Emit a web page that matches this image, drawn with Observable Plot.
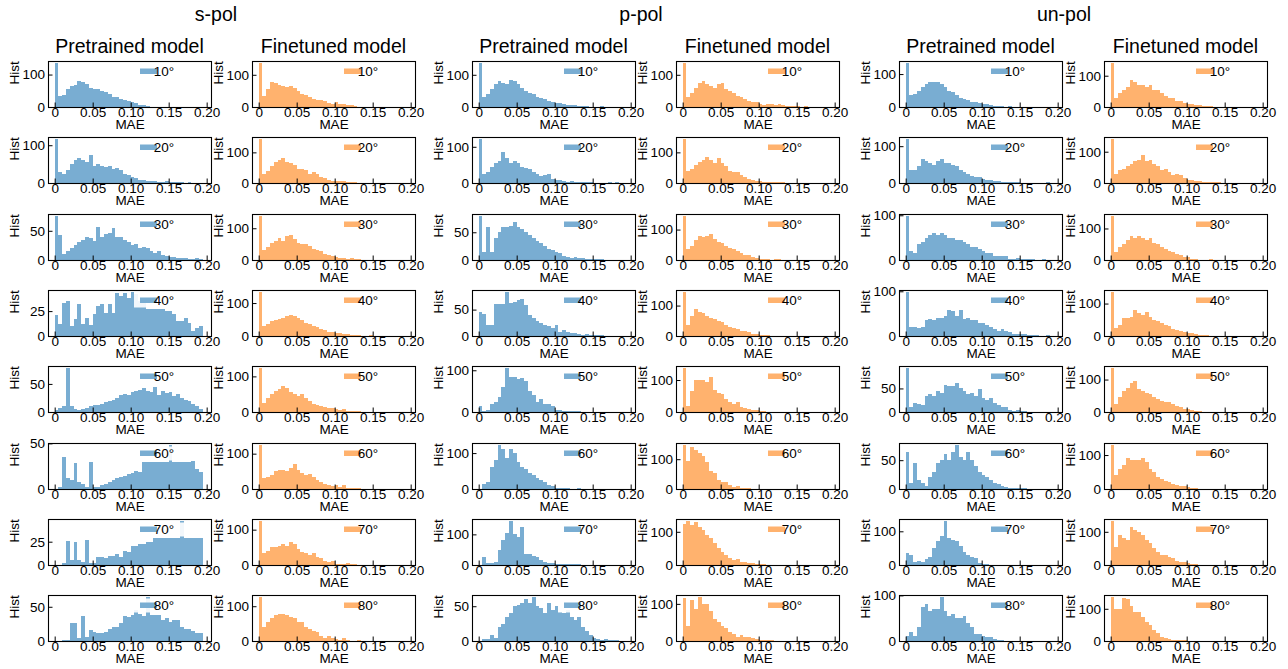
<!DOCTYPE html>
<html><head><meta charset="utf-8">
<script src="https://cdn.jsdelivr.net/npm/d3@7"></script>
<script src="https://cdn.jsdelivr.net/npm/@observablehq/plot@0.6"></script>
<style>
body{margin:0;background:#fff;}
#wrap{position:relative;width:1288px;height:669px;font-family:"Liberation Sans",Arial,sans-serif;color:#000;overflow:hidden;}
.t{position:absolute;transform:translateX(-50%);white-space:nowrap;font-size:19.5px;line-height:1;}
.p{position:absolute;}
.p svg{max-width:none !important;}
</style></head><body><div id="wrap"></div>
<script>
// ---------- data ----------
const groupTitles = ["s-pol", "p-pol", "un-pol"];
const modelTitles = ["Pretrained model", "Finetuned model"];
const angleLabels = ["10°", "20°", "30°", "40°", "50°", "60°", "70°", "80°"];
const xTickValues = [0, 0.05, 0.1, 0.15, 0.2];
const xTickLabels = ["0", "0.05", "0.10", "0.15", "0.20"];
const binWidth = 0.005; // histogram bins start at 0

// counts per bin (bin k covers [k*0.005, (k+1)*0.005]), one row per angle
const sPolPretrained = [
  [135,35,38,55,65,68,80,76,70,60,57,55,50,45,40,32,30,25,22,20,15,12,7,5,2],
  [116,28,25,35,50,60,65,62,55,75,45,50,45,42,45,38,40,35,25,20,15,12,8,8,6,5,4,3,3,5,3,2,3,2,0,2,1],
  [75,42,10,15,20,25,30,35,40,38,32,57,40,45,47,55,40,40,35,30,25,28,20,22,20,15,12,15,8,7,5,5,3,4,4,2,1,3,1],
  [21,12,33,35,10,17,32,12,18,11,22,30,32,23,32,23,43,40,43,38,44,42,35,35,27,27,27,27,27,25,25,22,15,15,18,13,5,8,10],
  [3,8,10,78,10,5,3,5,8,10,12,12,15,18,20,22,25,30,32,30,35,38,40,42,38,35,45,30,38,33,35,28,32,25,22,20,15,10,6],
  [0,2,35,12,10,28,8,5,2,30,2,2,4,5,8,10,12,13,14,16,18,20,19,30,30,30,30,30,30,30,48,30,30,30,30,30,31,22,19],
  [0,0,2,26,5,25,5,3,27,2,2,9,9,8,10,10,12,9,15,14,20,20,22,23,25,25,29,29,29,29,29,29,29,47,29,29,29,29,29],
  [0,0,2,2,27,27,5,36,6,16,13,12,11,13,17,20,20,27,36,35,38,45,40,36,64,38,38,38,31,33,28,31,31,21,17,17,15,12,12]
];
const sPolFinetuned = [
  [136,34,57,78,75,68,65,62,65,60,50,40,36,31,26,21,23,20,12,8,15,10,10,5,5,4],
  [143,30,40,55,70,75,80,70,65,60,45,45,42,30,35,30,20,15,10,8,6,5,5,3,3,2,1],
  [138,30,40,55,60,70,60,75,80,65,55,50,50,45,35,30,28,20,15,12,8,5,5,3,5,3,3,1],
  [133,30,35,45,50,52,55,60,65,62,55,50,40,35,30,28,22,18,12,12,8,8,5,5,3,2,2,0,1,2],
  [123,25,40,50,60,65,72,68,55,50,45,50,40,30,22,20,18,15,12,10,8,5,8,3,3,3,2],
  [124,30,35,40,50,55,55,50,60,72,55,45,40,42,35,25,20,15,10,8,12,5,10,3,3,2,2,1],
  [124,35,40,50,50,55,60,55,65,60,45,38,35,28,35,22,20,12,8,10,3,3,3,5,3,2,1],
  [126,40,55,65,75,78,78,75,70,65,55,55,40,35,30,25,15,10,15,8,5,3,8,2,1,1,3]
];
const pPolPretrained = [
  [136,30,40,55,70,80,75,70,85,80,70,60,50,45,40,30,28,25,20,15,12,12,10,5,5,5,3,3,2,1,1,1,2,1],
  [121,25,30,45,55,60,85,70,55,60,55,45,42,40,30,25,20,22,25,12,8,8,5,3,5,3,3,2,2,2,1,1,0,1,2,1,2],
  [79,15,60,15,40,50,60,60,62,68,60,55,50,45,40,35,30,25,20,18,15,12,8,5,3,5,3,3,2,2,2,2,1],
  [45,42,20,20,60,60,60,83,62,65,68,70,58,40,35,28,25,20,18,15,20,8,12,8,5,5,3,2,3,2,2,2,1],
  [15,3,5,20,25,35,60,105,85,85,80,82,75,50,40,25,30,18,20,15,5,5,3,3,2,2,2],
  [0,15,20,60,80,122,110,85,110,100,75,60,55,45,40,30,25,20,12,8,3,3,2,2,1,1,2,1,1],
  [0,25,5,5,10,50,80,105,143,100,90,125,35,35,30,25,15,10,8,5,3,3,2,2,2,2,2,1,1],
  [0,3,3,8,5,20,25,35,40,50,52,55,60,55,63,50,48,40,55,45,50,42,40,45,35,30,35,20,15,8,5,3,2,3,2,1,1]
];
const pPolFinetuned = [
  [136,30,45,60,75,80,70,65,60,70,75,55,50,45,35,30,25,20,15,15,8,5,10,8,5,8,5,3,2,3,2,1,2,1,1],
  [143,40,45,60,70,75,85,75,65,80,65,55,40,35,35,25,20,12,10,8,8,3,3,3,2,2,2,1],
  [144,35,45,65,80,75,80,85,70,60,55,45,40,35,28,22,18,15,10,5,3,3,2,1,2,3,1],
  [144,35,65,90,80,75,65,60,55,50,45,35,30,25,22,18,15,12,8,5,3,2,2,1],
  [137,20,65,100,100,100,95,110,70,60,55,40,30,25,30,15,12,10,5,5,3,2,1,1,1],
  [147,95,140,130,120,110,90,60,55,30,25,25,15,8,10,5,2,2,1,1],
  [125,132,120,130,115,105,90,80,65,50,40,30,20,15,18,10,8,5,5,3,2,2,1,1],
  [115,40,110,85,118,100,100,80,60,50,40,35,25,20,12,15,10,12,8,5,3,3,2,2,1,1]
];
const unPolPretrained = [
  [133,35,40,50,60,70,75,75,75,70,60,50,45,35,28,25,20,15,15,12,10,8,5,4,3,2,1,2],
  [119,35,35,45,65,60,55,50,60,65,55,55,50,45,35,30,25,20,15,15,10,8,8,5,5,3,3,2,2,2,1,1,0,0,0,0,0,2,1],
  [98,20,15,35,40,50,55,60,55,60,55,50,50,45,45,40,35,30,30,25,20,15,15,10,10,8,8,3,3,5,3,3,2,2,1,1,2],
  [98,20,20,18,20,35,38,35,40,40,45,58,55,45,58,38,40,35,35,30,30,25,20,15,12,15,12,10,5,5,5,5,3,3,2,1,1,2],
  [93,10,20,18,15,35,38,35,45,40,58,55,55,62,50,45,38,40,35,48,30,25,30,20,15,10,10,5,3,5,2,2,1],
  [65,10,45,15,10,5,20,30,45,50,60,50,65,76,55,50,65,50,40,30,25,20,15,10,8,5,3,2,1,1,1,1],
  [35,30,10,12,10,18,25,50,70,85,130,80,75,70,55,40,30,25,20,5,3,2,1],
  [10,20,10,30,75,80,65,70,70,96,65,55,60,50,50,55,40,30,15,15,10,8,8,5,3,2,1]
];
const unPolFinetuned = [
  [140,30,45,55,65,85,80,70,70,65,70,55,55,45,35,30,30,20,20,12,10,8,5,5,3,3,2,1],
  [140,30,40,45,55,60,70,75,90,70,75,60,55,40,45,35,25,30,25,15,10,8,6,5,3,3,3,2,2,1,0,0,0,0,1,0,0,1],
  [139,25,40,50,65,75,70,75,70,65,70,55,50,40,35,30,25,20,15,10,10,3,2,1,1,1,3],
  [135,25,35,55,55,60,80,70,65,75,60,50,45,40,35,30,22,18,15,12,8,8,5,3,2,2,1,1],
  [135,25,45,65,75,90,95,70,65,60,55,45,40,35,30,30,25,20,15,10,10,5,3,2,1,1],
  [129,40,60,70,90,85,85,85,90,80,60,50,35,30,25,20,15,12,8,8,5,3,2,1,1,1],
  [132,55,90,80,75,115,105,100,90,75,65,50,40,30,30,25,20,12,10,10,5,3,2,1],
  [136,100,100,135,130,110,90,90,75,60,50,35,25,12,8,5,3,3,2,2,1,1]
];

// ---------- styling / layout ----------
const BLUE = "#79add2";   // tab:blue at alpha 0.6 on white
const ORANGE = "#ffb26e"; // tab:orange at alpha 0.6 on white
const columns = [
  {data: sPolPretrained, color: BLUE}, {data: sPolFinetuned, color: ORANGE},
  {data: pPolPretrained, color: BLUE}, {data: pPolFinetuned, color: ORANGE},
  {data: unPolPretrained, color: BLUE}, {data: unPolFinetuned, color: ORANGE}
];
const FW = 163, FH = 46;
const ML = 52, MR = 10, MT = 6, MB = 34;
const frameLefts = [48, 252, 472, 676, 899, 1104];
const groupCenters = [216, 641, 1064];
const frameTop0 = 61, rowPitch = 76.3;
const xDomain = [-0.0088, 0.2057];
const FONT = '"Liberation Sans", Arial, sans-serif';

function panel(counts, color, label) {
  const bins = counts.map((c, i) => ({x1: i * binWidth, x2: (i + 1) * binWidth, c}));
  const top = d3.max(counts) * 1.05;
  const step = top >= 100 ? 100 : top >= 50 ? 50 : 25;
  const yTicks = d3.range(0, top + 1e-9, step);
  const yPerPx = top / FH;
  const xPerPx = (xDomain[1] - xDomain[0]) / FW;
  const svg = Plot.plot({
    width: FW + ML + MR, height: FH + MT + MB,
    marginLeft: ML, marginRight: MR, marginTop: MT, marginBottom: MB,
    x: {domain: xDomain, axis: null},
    y: {domain: [0, top], axis: null},
    style: {background: "transparent", overflow: "visible", fontFamily: FONT, fontSize: "13.5px", color: "#000"},
    marks: [
      Plot.rect(bins, {x1: "x1", x2: "x2", y1: 0, y2: "c", fill: color, shapeRendering: "crispEdges"}),
      Plot.ruleX(xTickValues, {x: d => d, y1: 0, y2: 4.5 * yPerPx, stroke: "#000", strokeWidth: 1}),
      Plot.ruleY(yTicks, {y: d => d, x1: xDomain[0], x2: xDomain[0] + 4.5 * xPerPx, stroke: "#000", strokeWidth: 1}),
      Plot.frame({stroke: "#000", strokeWidth: 1.1}),
      Plot.text(xTickValues, {x: d => d, text: (d, i) => xTickLabels[i], frameAnchor: "bottom", dy: 9, fill: "#000"}),
      Plot.text(yTicks, {y: d => d, text: d => String(d), frameAnchor: "left", dx: -3.5, textAnchor: "end", fill: "#000"}),
      Plot.text(["MAE"], {text: d => d, frameAnchor: "bottom", dy: 21.5, fill: "#000"}),
      Plot.text(["Hist"], {text: d => d, frameAnchor: "left", dx: -34, rotate: -90, fill: "#000"})
    ]
  });
  // legend (white box, patch, label) in the upper right
  const g = d3.select(svg).append("g");
  g.append("rect").attr("x", ML + 86).attr("y", MT + 3.5).attr("width", 58).attr("height", 14)
    .attr("fill", "#fff").attr("fill-opacity", 0.9);
  g.append("rect").attr("x", ML + 92).attr("y", MT + 7.5).attr("width", 17).attr("height", 5.5)
    .attr("fill", color);
  g.append("text").attr("x", ML + 116).attr("y", MT + 10.3).attr("dy", "0.35em")
    .attr("font-size", "13.5px").attr("fill", "#000").text(label);
  return svg;
}

const wrap = document.getElementById("wrap");
columns.forEach((col, ci) => {
  col.data.forEach((counts, ri) => {
    const svg = panel(counts, col.color, angleLabels[ri]);
    const div = document.createElement("div");
    div.className = "p";
    div.style.left = (frameLefts[ci] - ML) + "px";
    div.style.top = (Math.round(frameTop0 + ri * rowPitch) - MT) + "px";
    div.style.width = (FW + ML + MR) + "px";
    div.appendChild(svg);
    wrap.appendChild(div);
  });
});

groupTitles.forEach((t, gi) => {
  const d = document.createElement("div");
  d.className = "t";
  d.textContent = t;
  d.style.left = groupCenters[gi] + "px";
  d.style.top = "5px";
  wrap.appendChild(d);
});
frameLefts.forEach((fl, ci) => {
  const d = document.createElement("div");
  d.className = "t";
  d.textContent = modelTitles[ci % 2];
  d.style.left = (fl + FW / 2) + "px";
  d.style.top = "36.5px";
  wrap.appendChild(d);
});
</script>
</body></html>
